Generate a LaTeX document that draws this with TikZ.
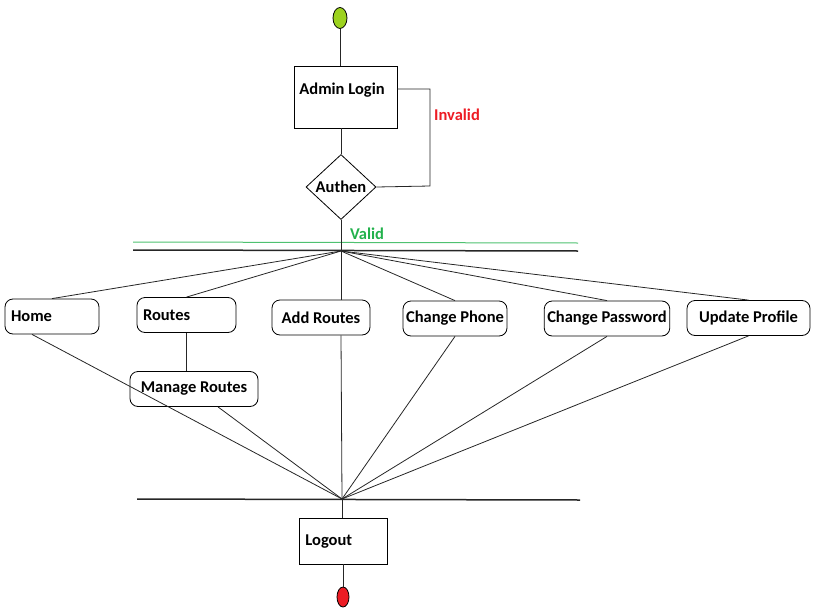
\documentclass[tikz,border=0pt]{standalone}
\usepackage{fontspec}
\setmainfont{Carlito}
\usetikzlibrary{shapes.geometric}
\definecolor{startgreen}{HTML}{9CD21E}
\definecolor{endred}{HTML}{EC1C24}
\definecolor{invalidred}{HTML}{ED1C24}
\definecolor{validgreen}{HTML}{22B14C}

\begin{document}
\begin{tikzpicture}[x=1pt,y=-1pt,line width=0.8pt,
    every node/.style={font=\fontsize{16.5}{19}\selectfont\bfseries},
    box/.style={draw, inner sep=0pt},
    act/.style={draw, rounded corners=8pt, minimum height=35pt, inner xsep=3pt, inner ysep=0pt},
    actleft/.style={act, text width=#1, align=left, inner xsep=6pt},
    dec/.style={draw, diamond, minimum width=70pt, minimum height=65pt, inner sep=0pt},
    startpt/.style={draw, ellipse, fill=startgreen, minimum width=14pt, minimum height=21pt, inner sep=0pt},
    endpt/.style={draw, ellipse, fill=endred, minimum width=12pt, minimum height=20pt, inner sep=0pt},
    bar/.style={line width=1.5pt, black!85}]
  \useasboundingbox (0,0) rectangle (819,613);

  % start, login and check
  \node[startpt] (start) at (340,18) {};
  \node[box, minimum width=103pt, minimum height=62pt] (login) at (345.5,97) {};
  \node[anchor=base west, inner sep=0pt] (logintxt) at (299,94) {Admin Login};
  \node[dec] (authen) at (341,187) {Authen};
  \node[text=invalidred] (invalid) at (457,115) {Invalid};
  \node[text=validgreen] (valid) at (367,234) {Valid};
  \coordinate (invtop) at (430,89);
  \coordinate (invbot) at (430,186);

  % fork and join bars
  \coordinate (forkpt) at (341,251);
  \coordinate (joinpt) at (342,499);
  \draw[validgreen!80, line width=1pt] (133,242) -- (578,243);
  \draw[bar] (133,250) -- (578,251);
  \draw[bar] (137,499) -- (580,500);

  % activities
  \node[actleft=82pt] (home) at (52,316.5) {Home};
  \node[actleft=87pt] (routes) at (186.5,315) {Routes};
  \node[act, minimum width=98pt] (addr) at (321,317.5) {Add Routes};
  \node[act, minimum width=104pt] (phone) at (455,318.5) {Change Phone};
  \node[act, minimum width=120pt] (passwd) at (607,318.5) {Change Password};
  \node[act, minimum width=123pt] (profile) at (748.5,318) {Update Profile};
  \node[act, minimum width=128pt] (manage) at (194,389) {Manage Routes};

  % logout and end
  \node[box, minimum width=88pt, minimum height=46pt] (logout) at (343,541) {};
  \node[anchor=base west, inner sep=0pt] (logouttxt) at (305,545) {Logout};
  \node[endpt] (end) at (343,597) {};

  \begin{scope}[black!85]
    \draw (start) -- (start |- login.north);
    \draw (authen.north |- login.south) -- (authen.north);
    \draw (invtop -| login.east) -- (invtop) -- (invbot) -- (authen.east);
    \draw (authen.south) -- (forkpt);
    \draw (forkpt) -- (home.north);
    \draw (forkpt) -- (routes.north);
    \draw (forkpt) -- (forkpt |- addr.north);
    \draw (forkpt) -- (phone.north);
    \draw (forkpt) -- (passwd.north);
    \draw (forkpt) -- (profile.north);
    \draw (routes.south) -- (routes.south |- manage.north);
    \draw ([xshift=-20pt]home.south) -- (joinpt);
    \draw ([xshift=24pt]manage.south) -- (joinpt);
    \draw (forkpt |- addr.south) -- (joinpt);
    \draw (phone.south) -- (joinpt);
    \draw (passwd.south) -- (joinpt);
    \draw (profile.south) -- (joinpt);
    \draw (logout.north -| joinpt) -- (joinpt);
    \draw (logout.south) -- (end);
  \end{scope}
\end{tikzpicture}
\end{document}
